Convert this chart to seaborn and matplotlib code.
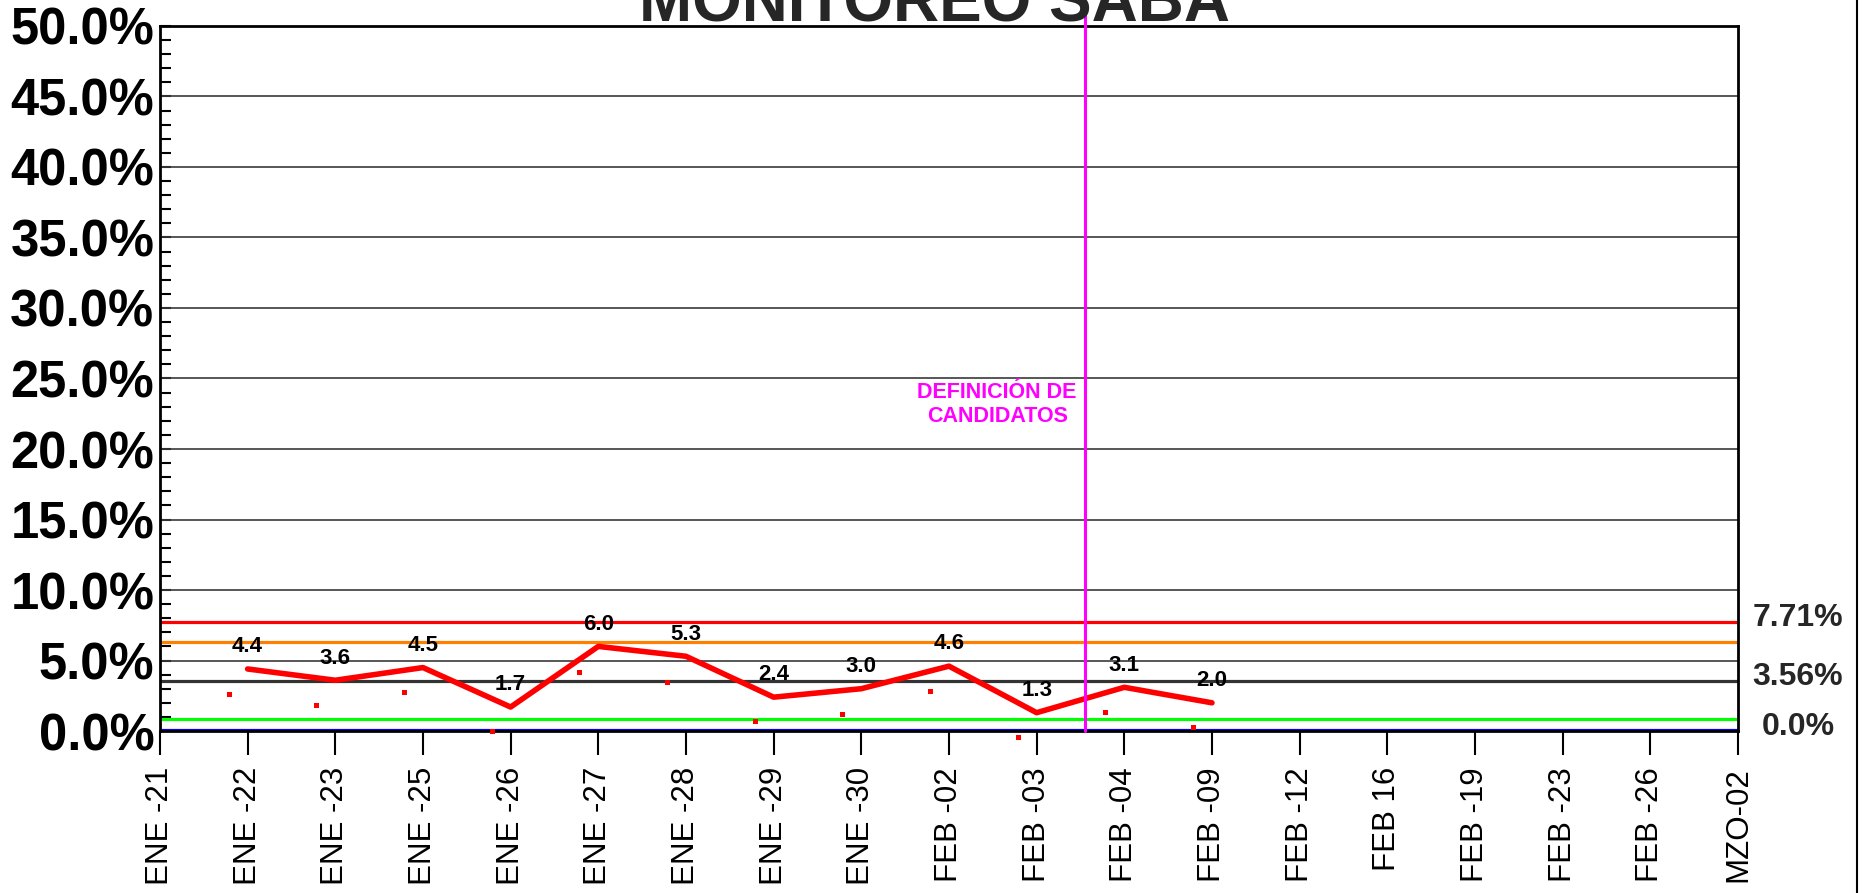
import matplotlib
matplotlib.use("Agg")
import matplotlib.pyplot as plt
import matplotlib.transforms as mtransforms
from matplotlib.lines import Line2D
import seaborn as sns

sns.set_theme(style="ticks")
plt.rcParams['font.family'] = ['Liberation Sans', 'DejaVu Sans']

# Data
fechas = ["ENE -21", "ENE -22", "ENE -23", "ENE -25", "ENE -26", "ENE -27", "ENE -28",
          "ENE -29", "ENE -30", "FEB -02", "FEB -03", "FEB -04", "FEB -09", "FEB -12",
          "FEB 16", "FEB -19", "FEB -23", "FEB -26", "MZO-02"]
saba = [4.4, 3.6, 4.5, 1.7, 6.0, 5.3, 2.4, 3.0, 4.6, 1.3, 3.1, 2.0]  # ENE -22 .. FEB -09
puntos = [2.57, 1.8, 2.72, -0.05, 4.13, 3.43, 0.66, 1.18, 2.82, -0.45, 1.33, 0.26]
ref_niveles = [7.71, 6.3, 3.56, 0.83, 0.1]
ref_colores = ["#ff0000", "#ff8000", "#333333", "#00ff00", "#0000ff"]
etiquetas_der = ["7.71%", "3.56%", "0.0%"]
niveles_der = [7.71, 3.56, 0.0]
candidatos_x = 10.55  # between FEB -03 and FEB -04

fig = plt.figure(figsize=(18.62, 8.93), dpi=100)
ax = fig.add_axes([0.0859, 0.1814, 0.8475, 0.7895])

# grid lines every 5%
for v in range(5, 50, 5):
    ax.axhline(v, color="#3a3a3a", lw=1.2, zorder=1)

# reference lines
for lvl, col in zip(ref_niveles, ref_colores):
    ax.axhline(lvl, color=col, lw=2.3, zorder=2)

x_line = list(range(1, len(saba) + 1))
sns.lineplot(x=x_line, y=saba, color="#ff0000", lw=4.0, ax=ax, zorder=4)

x_dots = [i - 0.21 for i in x_line]
sns.scatterplot(x=x_dots, y=puntos, marker="s", s=14, color="#ff0000",
                edgecolor="none", ax=ax, zorder=4, clip_on=False)

for x, v in zip(x_line, saba):
    ax.annotate(f"{v:.1f}", (x, v), xytext=(0, 16), textcoords="offset points",
                ha="center", va="center", fontsize=16, fontweight="bold", color="black")

# candidate definition marker
ax.plot([candidatos_x, candidatos_x], [0, 50.8], color="#ff00ff", lw=2.2,
        clip_on=False, zorder=5)
ax.text(candidatos_x - 1.0, 23.15, "DEFINICIÓN DE\nCANDIDATOS", color="#ff00ff",
        fontsize=15.5, fontweight="bold", ha="center", va="center", linespacing=1.2)

# axes
ax.set_xlim(0, len(fechas) - 1)
ax.set_ylim(0, 50)
ax.set_xticks(range(len(fechas)))
ax.set_xticklabels(fechas, rotation=90, fontsize=22.5)
ax.set_yticks(range(0, 51, 5))
ax.set_yticklabels([f"{v:.1f}%" for v in range(0, 51, 5)], fontsize=36.5, fontweight="bold")
ax.set_yticks(range(0, 51, 1), minor=True)
ax.tick_params(axis="y", which="both", direction="in", length=8, width=1.5, pad=4, colors="black")
ax.tick_params(axis="x", which="major", direction="out", length=17, width=1.5, pad=9, colors="black")
ax.set_xlabel("")
ax.set_ylabel("")
for sp in ax.spines.values():
    sp.set_visible(True)
    sp.set_color("black")
    sp.set_linewidth(2)

# right-side labels
trans = mtransforms.blended_transform_factory(ax.transAxes, ax.transData)
for lbl, lvl in zip(etiquetas_der, niveles_der):
    ax.annotate(lbl, (1.038, lvl), xycoords=trans, xytext=(0, 3), textcoords="offset points",
                ha="center", va="center", fontsize=23, fontweight="bold", annotation_clip=False)

fig.text(0.502, 0.976, "MONITOREO SABA", ha="center", va="baseline",
         fontsize=46, fontweight="bold")
fig.add_artist(Line2D([1857 / 1862] * 2, [0, 1], transform=fig.transFigure,
                      color="black", lw=1.5))

fig.savefig("out.png", dpi=100)
